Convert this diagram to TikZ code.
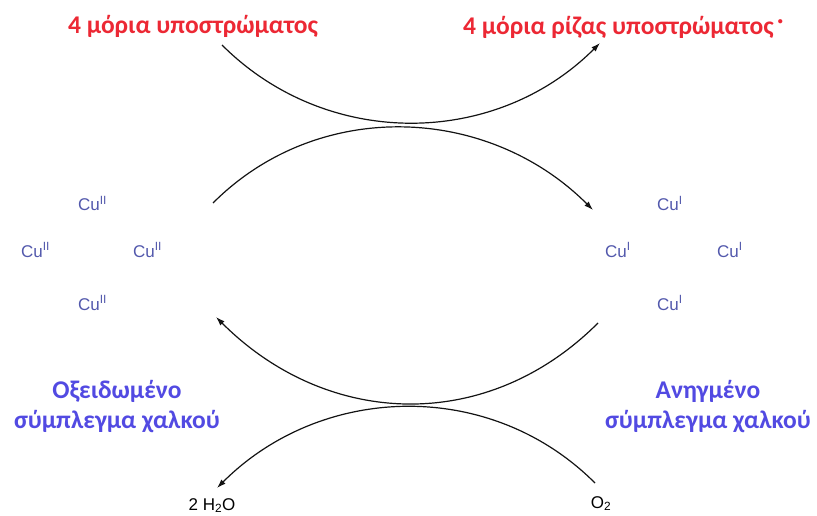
\documentclass[tikz,border=0pt]{standalone}
\usepackage{fontspec}
\setmainfont{Liberation Sans}
\newfontfamily\grfont{Carlito}
\usepackage{tikz}
\usetikzlibrary{arrows.meta}
\definecolor{redlbl}{RGB}{236,40,52}
\definecolor{bluelbl}{RGB}{82,74,226}
\definecolor{cublue}{RGB}{82,88,172}
\tikzstyle{every picture}=[->,>={Latex[length=9pt,width=6pt]}]
\tikzstyle{substrate}=[text=redlbl,font=\grfont\bfseries\fontsize{25.5}{28}\selectfont]
\tikzstyle{complex}=[text=bluelbl,align=center,font=\grfont\bfseries\fontsize{25.5}{30}\selectfont]
\tikzstyle{copper}=[text=cublue,anchor=base west,inner sep=0pt,font=\fontsize{17}{20}\selectfont]
\tikzstyle{species}=[anchor=base,inner sep=0pt,font=\fontsize{17}{20}\selectfont]
\tikzstyle{cycle}=[line width=1.2pt,gray!15!black]

\begin{document}
\begin{tikzpicture}[x=1pt,y=1pt]
\useasboundingbox (0,0) rectangle (817,515);
 \node[substrate] (sub) at (193,489) {4 μόρια υποστρώματος};
 \node[substrate] (rad) at (623,488) {4 μόρια ρίζας υποστρώματος\,\raisebox{0.75ex}{\normalsize•}};

 % Cu(II) cluster, oxidised side
 \node[copper] (cu2n) at (78,304) {Cu\textsuperscript{II}};
 \node[copper] (cu2w) at (21,258) {Cu\textsuperscript{II}};
 \node[copper] (cu2e) at (133,258) {Cu\textsuperscript{II}};
 \node[copper] (cu2s) at (78,205) {Cu\textsuperscript{II}};
 % Cu(I) cluster, reduced side
 \node[copper] (cu1n) at (657,304) {Cu\textsuperscript{I}};
 \node[copper] (cu1w) at (605,258) {Cu\textsuperscript{I}};
 \node[copper] (cu1e) at (717,258) {Cu\textsuperscript{I}};
 \node[copper] (cu1s) at (657,205) {Cu\textsuperscript{I}};

 \node[complex] (ox) at (117,108) {Οξειδωμένο\\σύμπλεγμα χαλκού};
 \node[complex] (red) at (708,108) {Ανηγμένο\\σύμπλεγμα χαλκού};

 \node[species] (water) at (212,5) {2 H\textsubscript{2}O};
 \node[species] (oxy) at (601,7) {O\textsubscript{2}};

 \coordinate (a1) at (222,470);
 \coordinate (a2) at (600,472);
 \coordinate (b1) at (213,312);
 \coordinate (b2) at (593,305);
 \coordinate (c1) at (598,192);
 \coordinate (c2) at (216,198);
 \coordinate (d1) at (595,32);
 \coordinate (d2) at (217,27);
 % Now the four arcs
 \draw[cycle] (a1) to[out=-45,in=-135] (a2);
 \draw[cycle] (b1) to[out=45,in=135] (b2);
 \draw[cycle] (c1) to[out=-135,in=-45,looseness=1.05] (c2);
 \draw[cycle] (d1) to[out=135,in=45] (d2);
\end{tikzpicture}
\end{document}
